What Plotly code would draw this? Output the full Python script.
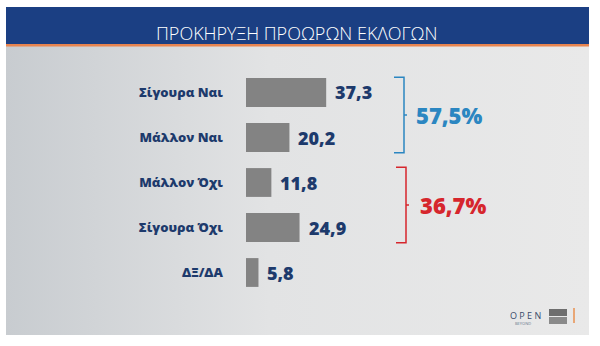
import plotly.graph_objects as go

# ---- data ----
categories = ["Σίγουρα Ναι", "Μάλλον Ναι", "Μάλλον Όχι", "Σίγουρα Όχι", "ΔΞ/ΔΑ"]
values = [37.3, 20.2, 11.8, 24.9, 5.8]
title_text = "ΠΡΟΚΗΡΥΞΗ ΠΡΟΩΡΩΝ ΕΚΛΟΓΩΝ"
yes_group = [0, 1]
no_group = [2, 3]

W, H = 600, 346
NAVY = "#1d3a6c"
BLUE = "#2b86c1"
RED = "#d6262d"
FONT = "Open Sans"

def fmt(v):
    return f"{v:.1f}".replace(".", ",")

fig = go.Figure()

# background panel with horizontal gradient (pixel-like axes x/y)
fig.add_trace(go.Scatter(
    x=[6, 589, 589, 6, 6], y=[46, 46, 335, 335, 46],
    mode="lines", line=dict(width=0), fill="toself",
    fillgradient=dict(type="horizontal",
                      colorscale=[[0, "#c8ccd0"], [0.45, "#e2e3e4"], [1, "#e9e9e9"]]),
    hoverinfo="skip", showlegend=False, xaxis="x", yaxis="y"))

# bars
fig.add_trace(go.Bar(
    x=values, y=categories, orientation="h",
    marker=dict(color="#838383", line=dict(width=0)),
    width=0.64, xaxis="x2", yaxis="y2", hoverinfo="skip", showlegend=False))

shapes = []
annotations = []

# header
shapes.append(dict(type="rect", xref="x", yref="y", x0=6, x1=589, y0=7, y1=44,
                   fillcolor="#1b3f83", line=dict(width=0), layer="above"))
shapes.append(dict(type="rect", xref="x", yref="y", x0=6, x1=589, y0=44, y1=46.5,
                   fillcolor="#e8844f", line=dict(width=0), layer="above"))
annotations.append(dict(x=297, y=33, xref="x", yref="y", text=title_text,
                        showarrow=False, xanchor="center", yanchor="middle",
                        font=dict(family=FONT, size=18, color="white", weight=300)))

# value labels
for c, v in zip(categories, values):
    annotations.append(dict(x=v, y=c, xref="x2", yref="y2", text=fmt(v),
                            showarrow=False, xanchor="left", yanchor="middle", xshift=7,
                            font=dict(family=FONT, size=18, color=NAVY, weight=800)))

# brackets
def bracket(group, xpx, color):
    top = group[0] - 0.34
    bot = group[-1] + 0.34
    mid = (group[0] + group[-1]) / 2
    xp = xpx / W
    xl = (xpx - 10) / W
    xr = (xpx + 3) / W
    path = f"M {xl} {top} L {xp} {top} L {xp} {bot} L {xl} {bot}"
    shapes.append(dict(type="path", xref="paper", yref="y2", path=path,
                       line=dict(color=color, width=1.5)))
    shapes.append(dict(type="line", xref="paper", yref="y2", x0=xp, x1=xr, y0=mid, y1=mid,
                       line=dict(color=color, width=1.5)))
    return mid

mid_yes = bracket(yes_group, 404, BLUE)
mid_no = bracket(no_group, 406, RED)
annotations.append(dict(x=414 / W, y=mid_yes, xref="paper", yref="y2",
                        text=fmt(sum(values[i] for i in yes_group)) + "%",
                        showarrow=False, xanchor="left", yanchor="middle",
                        font=dict(family=FONT, size=22, color=BLUE, weight=800)))
annotations.append(dict(x=418 / W, y=mid_no, xref="paper", yref="y2",
                        text=fmt(sum(values[i] for i in no_group)) + "%",
                        showarrow=False, xanchor="left", yanchor="middle",
                        font=dict(family=FONT, size=22, color=RED, weight=800)))

# logo
annotations.append(dict(x=525, y=315, xref="x", yref="y", text="O P E N", showarrow=False,
                        xanchor="center", yanchor="middle",
                        font=dict(family=FONT, size=9, color="#3a4a6a")))
annotations.append(dict(x=523, y=323, xref="x", yref="y", text="BEYOND", showarrow=False,
                        xanchor="center", yanchor="middle",
                        font=dict(family=FONT, size=4, color="#6a7a90")))
shapes.append(dict(type="rect", xref="x", yref="y", x0=549, x1=567, y0=309, y1=316,
                   fillcolor="#6e6e6e", line=dict(width=0)))
shapes.append(dict(type="rect", xref="x", yref="y", x0=549, x1=567, y0=317, y1=324,
                   fillcolor="#8a8a8a", line=dict(width=0)))
shapes.append(dict(type="line", xref="x", yref="y", x0=574, x1=574, y0=308, y1=323,
                   line=dict(color="#e8904f", width=1.5)))

fig.update_layout(
    width=W, height=H,
    margin=dict(l=0, r=0, t=0, b=0),
    paper_bgcolor="white", plot_bgcolor="rgba(0,0,0,0)",
    showlegend=False,
    xaxis=dict(domain=[0, 1], range=[0, W], visible=False, fixedrange=True),
    yaxis=dict(domain=[0, 1], range=[H, 0], visible=False, fixedrange=True),
    xaxis2=dict(domain=[246 / W, 570 / W], range=[0, 324 / 2.15], anchor="y2",
                visible=False, fixedrange=True),
    yaxis2=dict(domain=[(H - 295) / H, (H - 70) / H], range=[4.5, -0.5], anchor="x2",
                type="category", showgrid=False, zeroline=False, showline=False,
                ticks="", ticklabelstandoff=22,
                tickfont=dict(family=FONT, size=13, color=NAVY, weight=800),
                fixedrange=True),
    shapes=shapes, annotations=annotations,
)

fig.write_html("out.html")
